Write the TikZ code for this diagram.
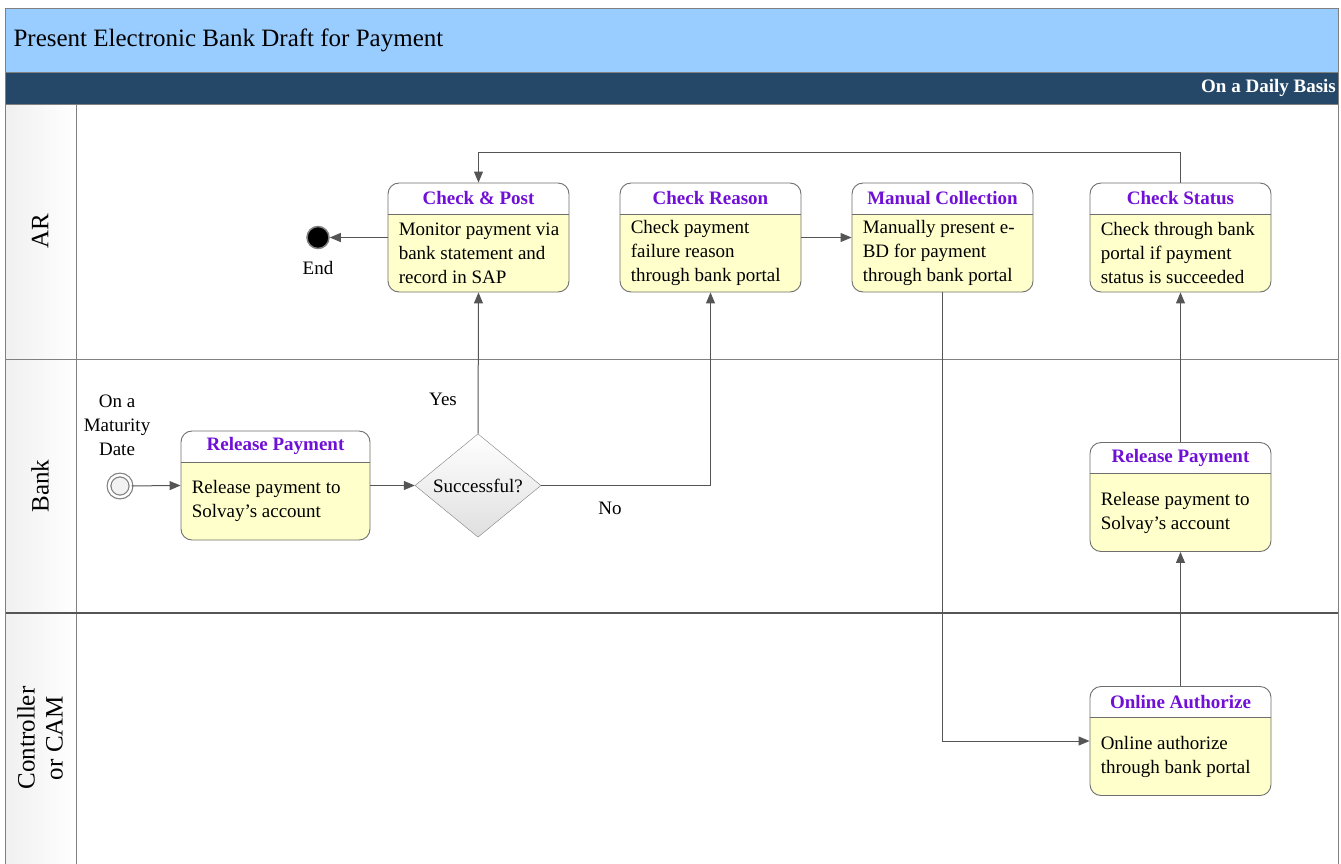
\documentclass[tikz,border=0pt]{standalone}
\usepackage{fontspec}
\setmainfont{Liberation Serif}
\usetikzlibrary{shapes.geometric,arrows.meta}

\definecolor{titleblue}{RGB}{153,204,255}
\definecolor{bandblue}{RGB}{37,72,105}
\definecolor{taskyellow}{RGB}{255,255,204}
\definecolor{taskpurple}{RGB}{112,16,214}
\definecolor{linegray}{RGB}{85,85,85}
\definecolor{boxgray}{RGB}{110,110,110}

\tikzset{
  taskbox/.style={draw=boxgray, line width=0.9pt, fill=taskyellow, rounded corners=11pt, minimum height=109pt, inner sep=0pt,
    path picture={
      \fill[white, sharp corners] (path picture bounding box.north west) rectangle ([yshift=-31pt]path picture bounding box.north east);
      \draw[boxgray, line width=0.9pt, sharp corners] ([yshift=-31pt]path picture bounding box.north west) -- ([yshift=-31pt]path picture bounding box.north east);}},
  tasktitle/.style={font=\fontsize{19}{24}\selectfont\bfseries, text=taskpurple, inner sep=0pt},
  tasktext/.style={font=\fontsize{19}{24}\selectfont, align=left, inner sep=0pt},
  txt/.style={font=\fontsize{19}{24}\selectfont, align=center, inner sep=0pt},
  lane/.style={font=\fontsize{25}{28}\selectfont, rotate=90, align=center},
  flow/.style={draw=linegray, line width=1pt, -{Triangle[length=11pt,width=9pt]}}
}

% name, position, width, title, body
\newcommand{\task}[5]{%
  \node[taskbox, minimum width=#3] (#1) at (#2) {};
  \node[tasktitle] (#1-t) at ([yshift=-15.5pt]#1.north) {#4};
  \node[tasktext, anchor=west] (#1-b) at ([xshift=11pt,yshift=-15.5pt]#1.west) {#5};
}

\begin{document}
\begin{tikzpicture}[x=1pt,y=-1pt]
\useasboundingbox (0,0) rectangle (1341,863);

% header
\fill[titleblue] (5,8) rectangle (1338,72);
\fill[bandblue] (5,72) rectangle (1338,104);
\node[font=\fontsize{25}{28}\selectfont, anchor=west] (title) at (10,40) {Present Electronic Bank Draft for Payment};
\node[font=\fontsize{19}{24}\selectfont\bfseries, text=white, anchor=east, inner sep=0pt] (basis) at (1336,88) {On a Daily Basis};

% lanes
\shade[left color=gray!12, right color=white] (5,104) rectangle (76,880);
\draw[gray] (76,104) -- (76,880);
\draw[gray] (5,359) -- (1338,359);
\draw[linegray, line width=1.5pt] (5,613) -- (1338,613);
\draw[gray] (5,72) -- (1338,72);
\draw[gray] (5,104) -- (1338,104);
\draw[gray] (5,8) rectangle (1338,880);
\node[lane] (ar) at (40,231) {AR};
\node[lane] (bank) at (40,486) {Bank};
\node[lane] (ctrl) at (40,738) {Controller\\or CAM};

% tasks
\task{cp}{478.5,237.5}{181pt}{Check \& Post}{Monitor payment via\\bank statement and\\record in SAP}
\task{cr}{710.5,237.5}{181pt}{Check Reason}{Check payment\\failure reason\\through bank portal}
\task{mc}{942.5,237.5}{181pt}{Manual Collection}{Manually present e-\\BD for payment\\through bank portal}
\task{cs}{1180.5,237.5}{181pt}{Check Status}{Check through bank\\portal if payment\\status is succeeded}
\task{rp1}{275.5,485.5}{189pt}{Release Payment}{Release payment to\\Solvay’s account}
\task{rp2}{1180.5,497}{181pt}{Release Payment}{Release payment to\\Solvay’s account}
\task{oa}{1180.5,741}{181pt}{Online Authorize}{Online authorize\\through bank portal}

% events and gateway
\node[circle, draw=gray, line width=1.2pt, double=white, double distance=2.5pt, fill=gray!10, minimum size=22pt] (start) at (120,486) {};
\node[txt] (maturity) at (117,425) {On a\\Maturity\\Date};
\node[circle, draw=gray, line width=1.5pt, fill=black, minimum size=22pt] (end) at (318,237.5) {};
\node[txt] (endlbl) at (318,268) {End};
\node[diamond, draw=gray, top color=white, bottom color=gray!25, minimum width=126pt, minimum height=96pt, inner sep=0pt,
  font=\fontsize{19}{24}\selectfont] (ok) at (478,485.5) {Successful?};
\node[txt] (yes) at (443,399) {Yes};
\node[txt] (no) at (610,508) {No};

% connectors
\draw[flow] (start) -- (rp1.west);
\draw[flow] (rp1.east) -- (ok.west);
\draw[flow] (ok.north) -- (cp.south);
\draw[flow] (ok.east) -| (cr.south);
\draw[flow] (cp.west) -- (end);
\draw[flow] (cr.east) -- (mc.west);
\draw[flow] (mc.south) |- (oa.west);
\draw[flow] (oa.north) -- (rp2.south);
\draw[flow] (rp2.north) -- (cs.south);
\draw[flow] (cs.north) -- ++(0,-30) -| (cp.north);
\end{tikzpicture}
\end{document}
